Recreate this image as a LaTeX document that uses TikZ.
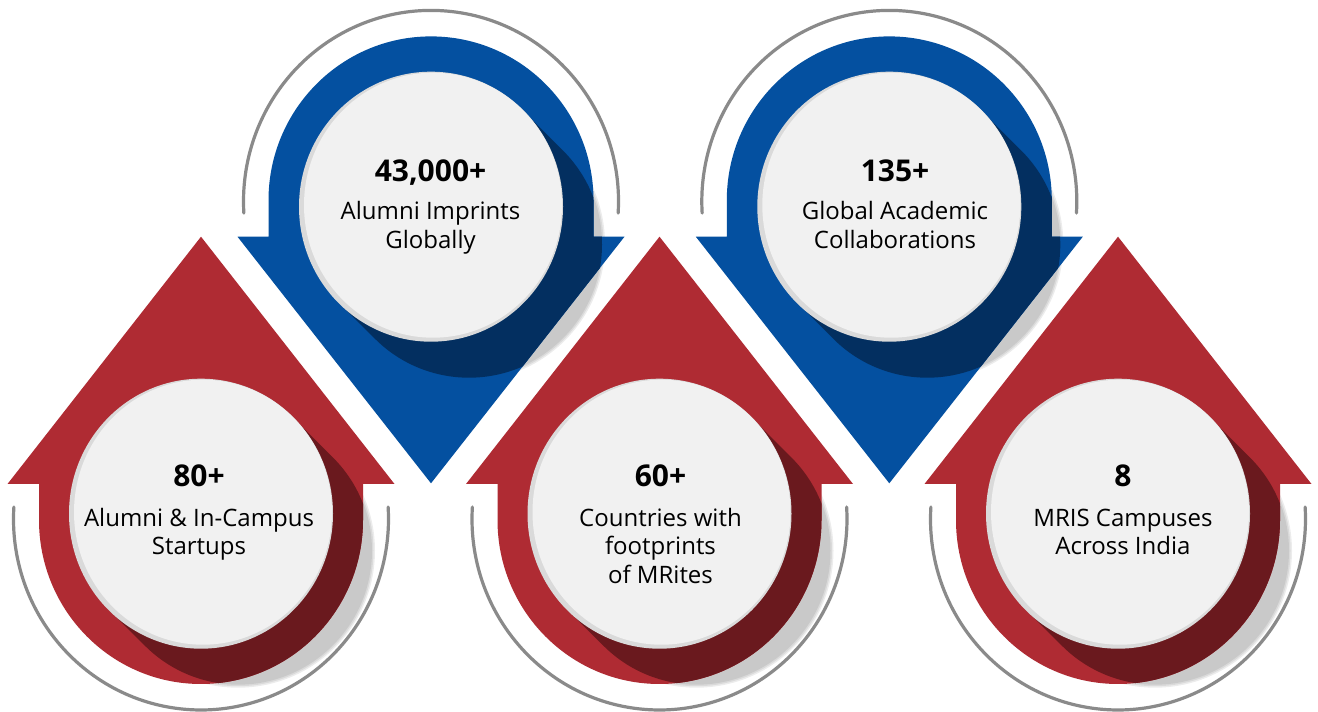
\documentclass[tikz,border=0pt]{standalone}
\usepackage{fontspec}
\setmainfont{Open Sans}
\usetikzlibrary{calc}
\definecolor{arrred}{HTML}{AF2B33}
\definecolor{arrblue}{HTML}{0450A0}
\definecolor{shred}{HTML}{6A191E}
\definecolor{shblue}{HTML}{032F60}
\definecolor{disc}{HTML}{F1F1F1}
\definecolor{discrim}{HTML}{DADADA}
\definecolor{ringgray}{HTML}{8A8A8A}
\tikzset{
  num/.style={font=\fontsize{30}{34}\selectfont\bfseries, anchor=base, inner sep=0pt, text=black},
  lbl/.style={font=\fontsize{24}{28}\selectfont, anchor=base, inner sep=0pt, text=black},
  ring/.style={draw=ringgray, line width=3.2pt, line cap=round},
  softsh/.style={fill=black, opacity=0.075},
}
\newcommand{\redpath}[1]{(#1-193.5,228) -- (#1,475.3) -- (#1+193.5,228) -- (#1+162,228) -- (#1+162,192)
      arc[start angle=0,end angle=-180,x radius=162,y radius=164] -- (#1-162,228) -- cycle}
\newcommand{\bluepath}[1]{(#1-193.5,475.3) -- (#1,228.7) -- (#1+193.5,475.3) -- (#1+162.5,475.3) -- (#1+162.5,511.6)
      arc[start angle=0,end angle=180,x radius=162.5,y radius=164] -- (#1-162.5,475.3) -- cycle}
\newcommand{\sweep}[3]{% centre name, radius, offset
  ($(#1)+(45:#2)$) -- ++(#3,-#3) arc[start angle=45,end angle=-135,radius=#2] -- ($(#1)+(225:#2)$) -- cycle}
\newcommand{\softshadow}[3]{% name, cx, cy
  \coordinate (#1s) at (#2,#3);
  \fill[softsh] \sweep{#1s}{137}{37};
  \fill[softsh] \sweep{#1s}{135.5}{37};
  \fill[softsh] \sweep{#1s}{134}{37};
}
\newcommand{\disc}[1]{%
  \fill[discrim] (#1c) ellipse [x radius=132, y radius=135];
  \fill[disc] ($(#1c)+(2,1.5)$) ellipse [x radius=129, y radius=132.5];
}
\newcommand{\redunit}[2]{%
  \coordinate (#1c) at (#2,198.3);
  \fill[arrred] \redpath{#2};
  \begin{scope}
    \clip \redpath{#2};
    \fill[shred] \sweep{#1c}{133}{38};
  \end{scope}
  \disc{#1}
  \coordinate (#1r) at (#2,193);
  \draw[ring] ($(#1r)+(176.4:187.5 and 191)$) arc[start angle=176.4,end angle=363.6,x radius=187.5,y radius=191];
}
\newcommand{\blueunit}[2]{%
  \coordinate (#1c) at (#2,505.3);
  \fill[arrblue] \bluepath{#2};
  \begin{scope}
    \clip \bluepath{#2};
    \fill[shblue] \sweep{#1c}{133}{38};
  \end{scope}
  \disc{#1}
  \coordinate (#1r) at (#2,510.6);
  \draw[ring] ($(#1r)+(-3.5:187.5 and 191)$) arc[start angle=-3.5,end angle=183.5,x radius=187.5,y radius=191];
}
\begin{document}
\begin{tikzpicture}[x=1pt,y=1pt]
\useasboundingbox (0,0) rectangle (1318,712);
\fill[white] (0,0) rectangle (1318,712);
% soft shadows
\softshadow{ra}{201}{198.3}
\softshadow{ba}{431}{505.3}
\softshadow{rb}{659.5}{198.3}
\softshadow{bb}{889.3}{505.3}
\softshadow{rc}{1118}{198.3}
% units
\blueunit{ba}{431}
\blueunit{bb}{889.3}
\redunit{ra}{201}
\redunit{rb}{659.5}
\redunit{rc}{1118}
% texts
\node[num] (ra1) at (199,225.3) {80+};
\node[lbl] (ra2) at (199,185.3) {Alumni \& In-Campus};
\node[lbl] (ra3) at (199,157) {Startups};
\node[num] (ba1) at (430.5,530.3) {43,000+};
\node[lbl] (ba2) at (430.5,492) {Alumni Imprints};
\node[lbl] (ba3) at (430.5,463.7) {Globally};
\node[num] (rb1) at (660.5,225.3) {60+};
\node[lbl] (rb2) at (660.5,185.3) {Countries with};
\node[lbl] (rb3) at (660.5,157) {footprints};
\node[lbl] (rb4) at (660.5,128.7) {of MRites};
\node[num] (bb1) at (895,530.3) {135+};
\node[lbl] (bb2) at (895,492) {Global Academic};
\node[lbl] (bb3) at (895,463.7) {Collaborations};
\node[num] (rc1) at (1123,225.3) {8};
\node[lbl] (rc2) at (1123,185.3) {MRIS Campuses};
\node[lbl] (rc3) at (1123,157) {Across India};
\end{tikzpicture}
\end{document}
